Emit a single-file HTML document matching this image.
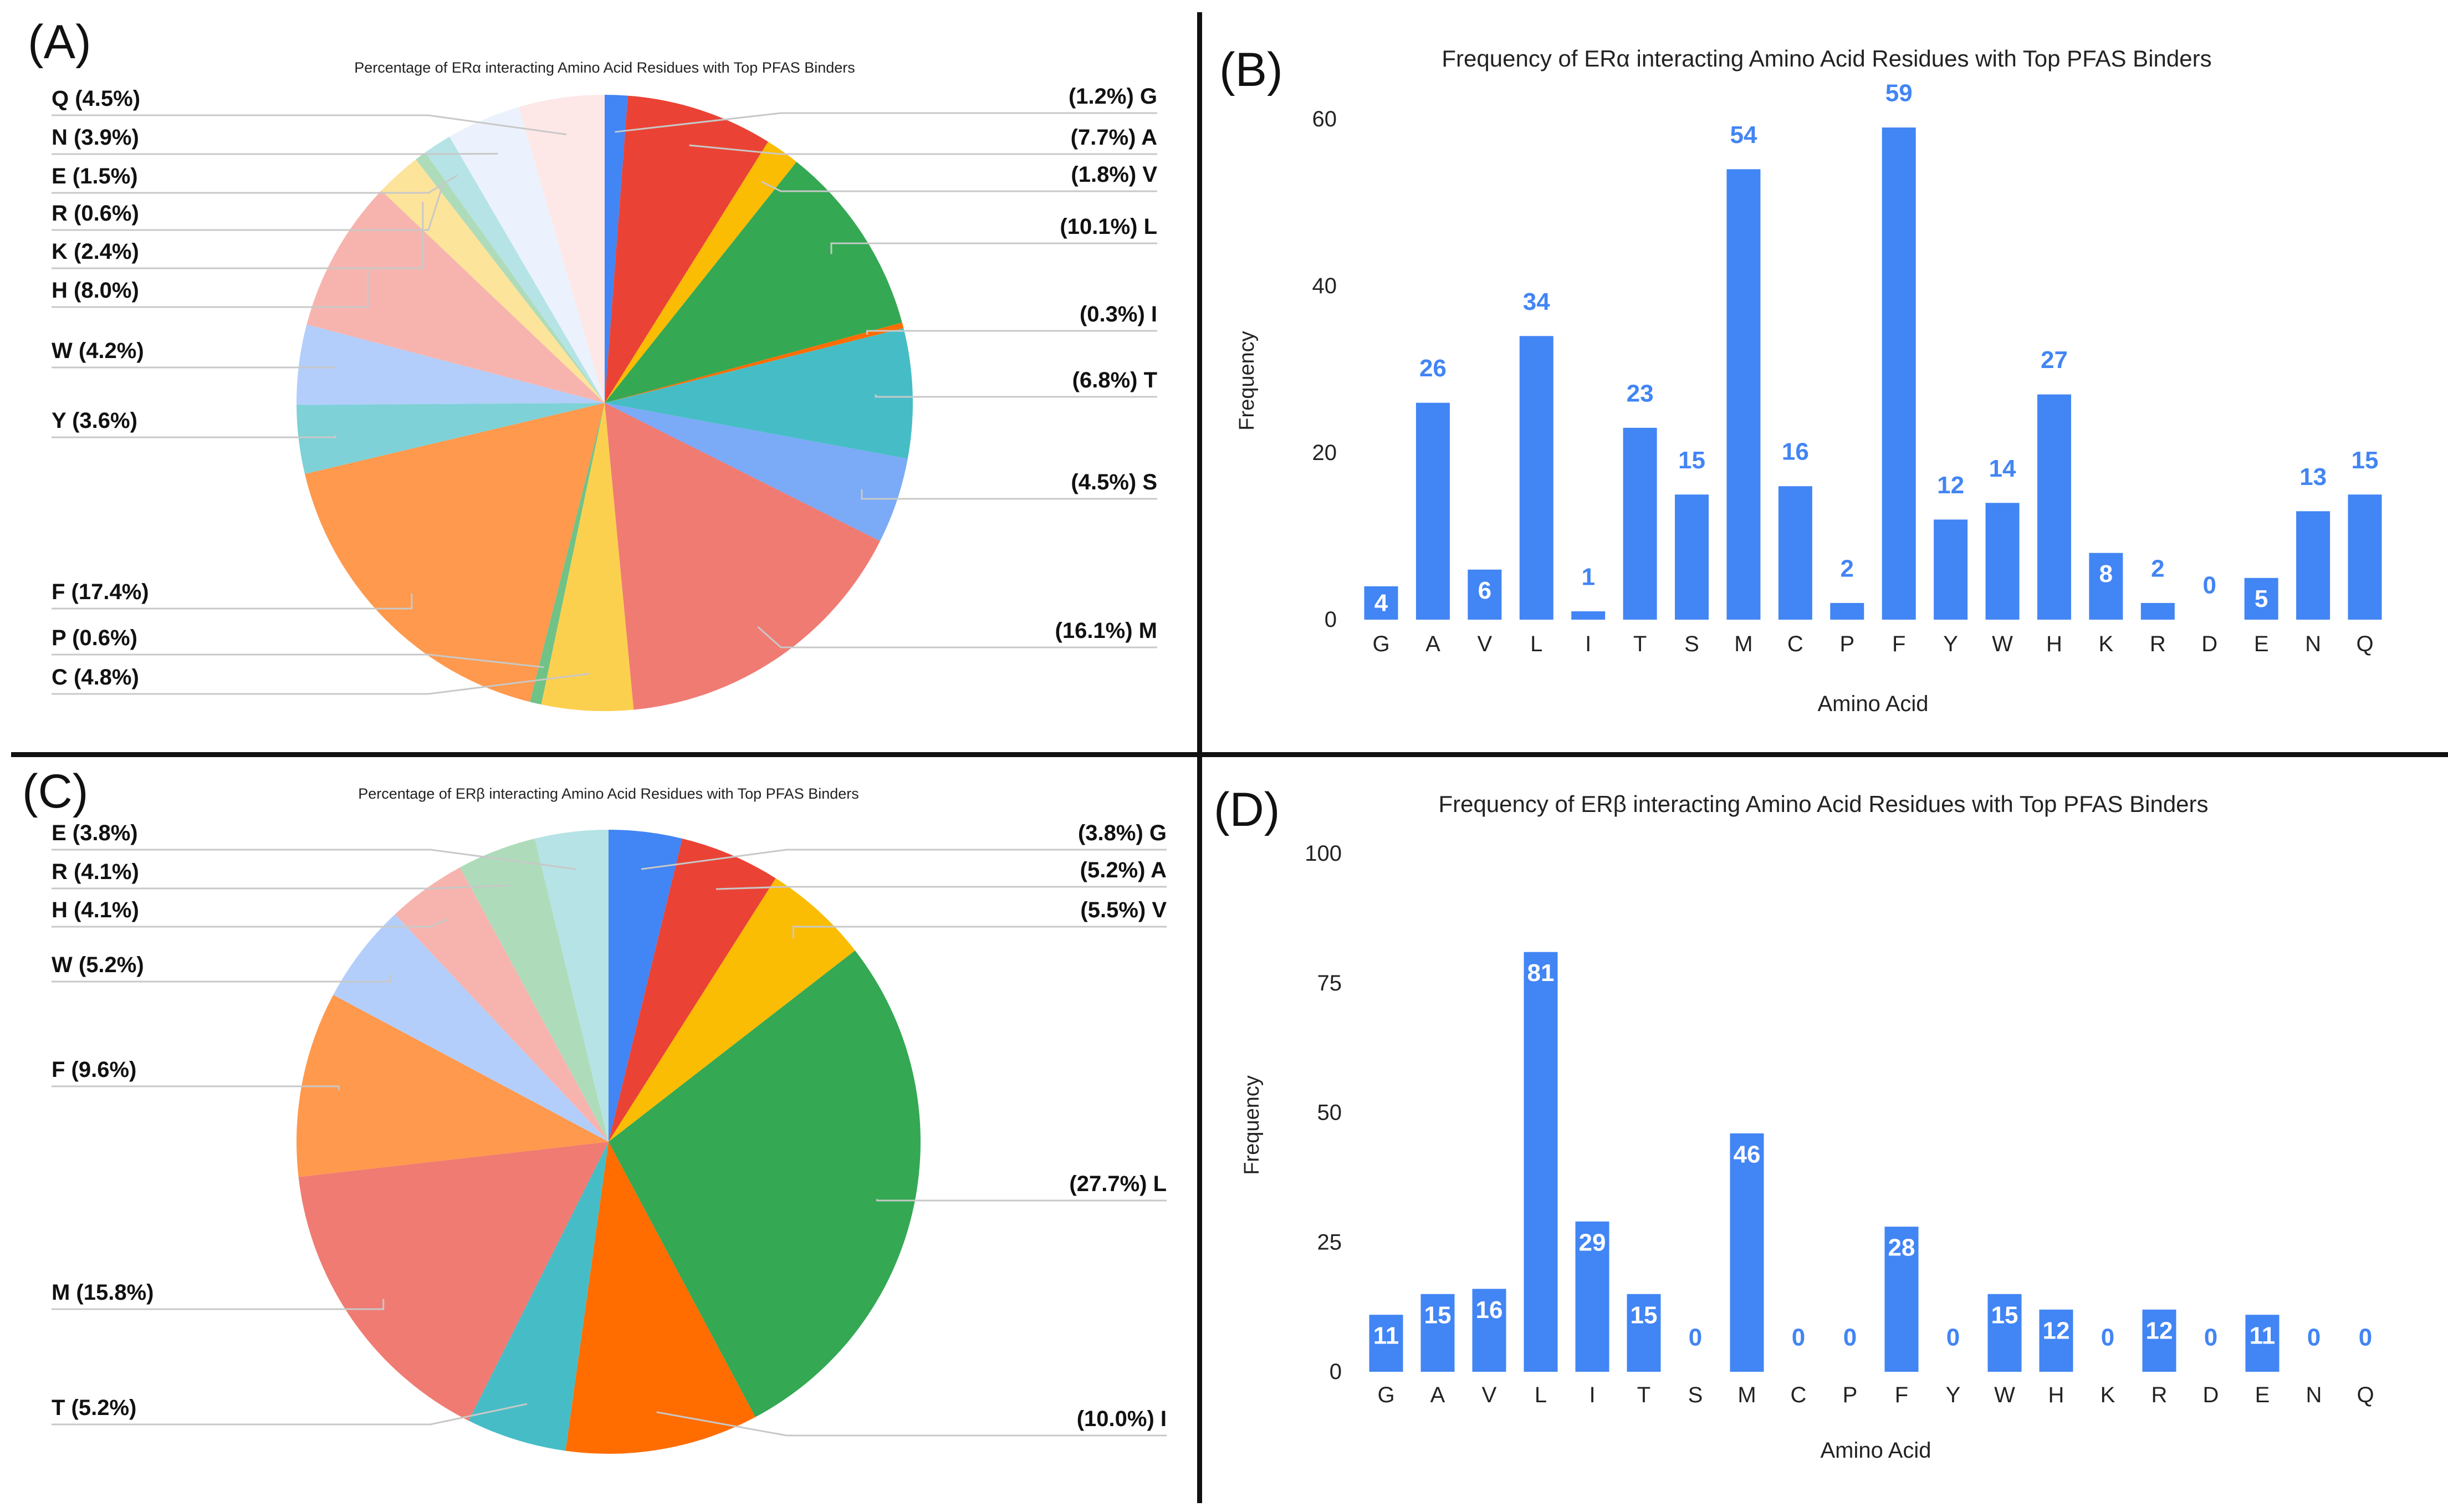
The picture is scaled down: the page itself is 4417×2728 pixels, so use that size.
<!DOCTYPE html>
<html><head><meta charset="utf-8"><style>
html,body{margin:0;padding:0;background:#fff}
svg{display:block}
text{font-family:"Liberation Sans",sans-serif}
</style></head><body>
<svg id="fig" xmlns="http://www.w3.org/2000/svg" width="4417" height="2728" viewBox="0 0 4417 2728">
<rect x="0" y="0" width="4417" height="2728" fill="#fff"/>
<rect x="2160" y="22" width="9" height="2690" fill="#111"/>
<rect x="20" y="1357" width="4397" height="9" fill="#111"/>
<text x="50" y="105" font-size="86" fill="#111">(A)</text>
<text x="2200" y="155" font-size="86" fill="#111">(B)</text>
<text x="40" y="1457" font-size="86" fill="#111">(C)</text>
<text x="2190" y="1490" font-size="86" fill="#111">(D)</text>
<text x="1091" y="131" font-size="27" text-anchor="middle" fill="#222">Percentage of ERα interacting Amino Acid Residues with Top PFAS Binders</text>
<text x="1098" y="1441" font-size="27" text-anchor="middle" fill="#222">Percentage of ERβ interacting Amino Acid Residues with Top PFAS Binders</text>
<text x="3296" y="120" font-size="42" text-anchor="middle" fill="#222">Frequency of ERα interacting Amino Acid Residues with Top PFAS Binders</text>
<text x="3290" y="1465" font-size="42" text-anchor="middle" fill="#222">Frequency of ERβ interacting Amino Acid Residues with Top PFAS Binders</text>
<g id="gA"></g><g id="gB"></g><g id="gC"></g><g id="gD"></g>
</svg>
<script>
const colors = {G:'#4285f4',A:'#ea4335',V:'#fbbc04',L:'#34a853',I:'#ff6d01',T:'#46bdc6',S:'#7baaf7',M:'#f07b72',C:'#fcd04f',P:'#71c287',F:'#ff994d',Y:'#7ed1d7',W:'#b3cefb',H:'#f7b4ae',K:'#fde49b',R:'#aedcba',E:'#b5e3e6',N:'#ebf2fd',Q:'#fde8e7'};
// Pie A data
const pieACats = ['G','A','V','L','I','T','S','M','C','P','F','Y','W','H','K','R','E','N','Q'];
const pieAVals = [1.2,7.7,1.8,10.1,0.3,6.8,4.5,16.1,4.8,0.6,17.4,3.6,4.2,8.0,2.4,0.6,1.5,3.9,4.5];
// Pie C data
const pieCCats = ['G','A','V','L','I','T','M','F','W','H','R','E'];
const pieCVals = [3.8,5.2,5.5,27.7,10.0,5.2,15.8,9.6,5.2,4.1,4.1,3.8];
// Bar B data
const barCats = ['G','A','V','L','I','T','S','M','C','P','F','Y','W','H','K','R','D','E','N','Q'];
const barBVals = [4,26,6,34,1,23,15,54,16,2,59,12,14,27,8,2,0,5,13,15];
const barBTicks = [0,20,40,60];
// Bar D data
const barDVals = [11,15,16,81,29,15,0,46,0,0,28,0,15,12,0,12,0,11,0,0];
const barDTicks = [0,25,50,75,100];

const NS='http://www.w3.org/2000/svg';
function mk(tag, attrs, parent){const e=document.createElementNS(NS,tag);for(const k in attrs)e.setAttribute(k,attrs[k]);parent.appendChild(e);return e;}

function drawPie(g, cats, vals, cx, cy, r, leftLabelY, rightLabelY, leftX, rightX, name){
  const total = vals.reduce((a,b)=>a+b,0);
  let a0 = 0; const mids=[];
  cats.forEach((c,i)=>{
    const a1 = a0 + vals[i]/total*2*Math.PI;
    const x0=cx+r*Math.sin(a0), y0=cy-r*Math.cos(a0), x1=cx+r*Math.sin(a1), y1=cy-r*Math.cos(a1);
    const large = (a1-a0)>Math.PI?1:0;
    const p = mk('path',{d:`M${cx},${cy} L${x0},${y0} A${r},${r} 0 ${large} 1 ${x1},${y1} Z`,fill:colors[c]},g);
    
    
    mids.push((a0+a1)/2); a0=a1;
  });
  let li=0, ri=0;
  cats.forEach((c,i)=>{
    const m=mids[i]; const right = m < Math.PI;
    const ly = right ? rightLabelY[ri++] : leftLabelY[li++];
    if(ly===undefined) return;
    const ax=cx+0.88*r*Math.sin(m), ay=cy-0.88*r*Math.cos(m);
    const uy = ly+30;
    let pts;
    if(right){const kx=Math.max(cx+0.5*r+40, ax); pts=`${rightX},${uy} ${kx},${uy} ${ax},${ay}`;}
    else {const kx=Math.min(cx-0.5*r-40, ax); pts=`${leftX},${uy} ${kx},${uy} ${ax},${ay}`;}
    const ln = mk('polyline',{points:pts,fill:'none',stroke:'#c8c8c8','stroke-width':3},g);
    
    
    const t = mk('text',{x:right?rightX:leftX,y:ly,'font-size':40,'font-weight':'bold','dominant-baseline':'central','text-anchor':right?'end':'start',fill:'#111'},g);
    t.textContent = right ? `(${vals[i].toFixed(1)}%) ${c}` : `${c} (${vals[i].toFixed(1)}%)`;
    
    
  });
}
drawPie(document.getElementById('gA'), pieACats, pieAVals, 1091, 727, 556,
  [1222,1151,1068,759,633,524,454,385,318,248,178],
  [174,248,315,409,567,686,870,1138], 93, 2088, 'pie-a');
drawPie(document.getElementById('gC'), pieCCats, pieCVals, 1098, 2060, 563,
  [2540,2332,1930,1741,1642,1573,1503],
  [1503,1570,1642,2136,2560], 93, 2105, 'pie-c');

function drawBar(g, vals, ticks, x0, x1, yBase, yTop, name, ySpanMax, axisY, titleY, freqX, freqY){
  const n = barCats.length, step=(x1-x0)/(n-1), bw=61;
  const ys = v => yBase - v/ySpanMax*(yBase-yTop);
  ticks.forEach(t=>{
    const e=mk('text',{x:x0-80,y:ys(t),'font-size':40,'text-anchor':'end','dominant-baseline':'central',fill:'#222'},g);
    e.textContent=t;
    
    
  });
  barCats.forEach((c,i)=>{
    const cx=x0+i*step, v=vals[i], top=ys(v);
    if(v>0){
      const r=mk('rect',{x:cx-bw/2,y:top,width:bw,height:yBase-top,fill:'#4285f4'},g);
      
      
    }
    const inside = name==='bar-d' ? (v>0) : (v>=4 && v<10);
    const h = yBase-top;
    const ly = inside ? (h<80 ? top+h/2 : top+38) : top-62;
    const lbl=mk('text',{x:cx,y:ly,'font-size':44,'font-weight':'bold','text-anchor':'middle','dominant-baseline':'central',fill:inside?'#fff':'#4285f4'},g);
    lbl.textContent=v;
    
    
    const xl=mk('text',{x:cx,y:axisY,'font-size':40,'text-anchor':'middle','dominant-baseline':'central',fill:'#222'},g);
    xl.textContent=c;
    
    
  });
  const at=mk('text',{x:(x0+x1)/2,y:titleY,'font-size':40,'text-anchor':'middle','dominant-baseline':'central',fill:'#222'},g);
  at.textContent='Amino Acid';
  
  
  const ft=mk('text',{x:freqX,y:freqY,'font-size':38,'text-anchor':'middle','dominant-baseline':'central',fill:'#222',transform:`rotate(-90 ${freqX} ${freqY})`},g);
  ft.textContent='Frequency';
  
  
}
drawBar(document.getElementById('gB'), barBVals, barBTicks, 2492, 4267, 1118, 215, 'bar-b', 60, 1162, 1270, 2250, 687);
drawBar(document.getElementById('gD'), barDVals, barDTicks, 2501, 4268, 2475, 1540, 'bar-d', 100, 2517, 2617, 2259, 2030);
</script>
</body></html>
